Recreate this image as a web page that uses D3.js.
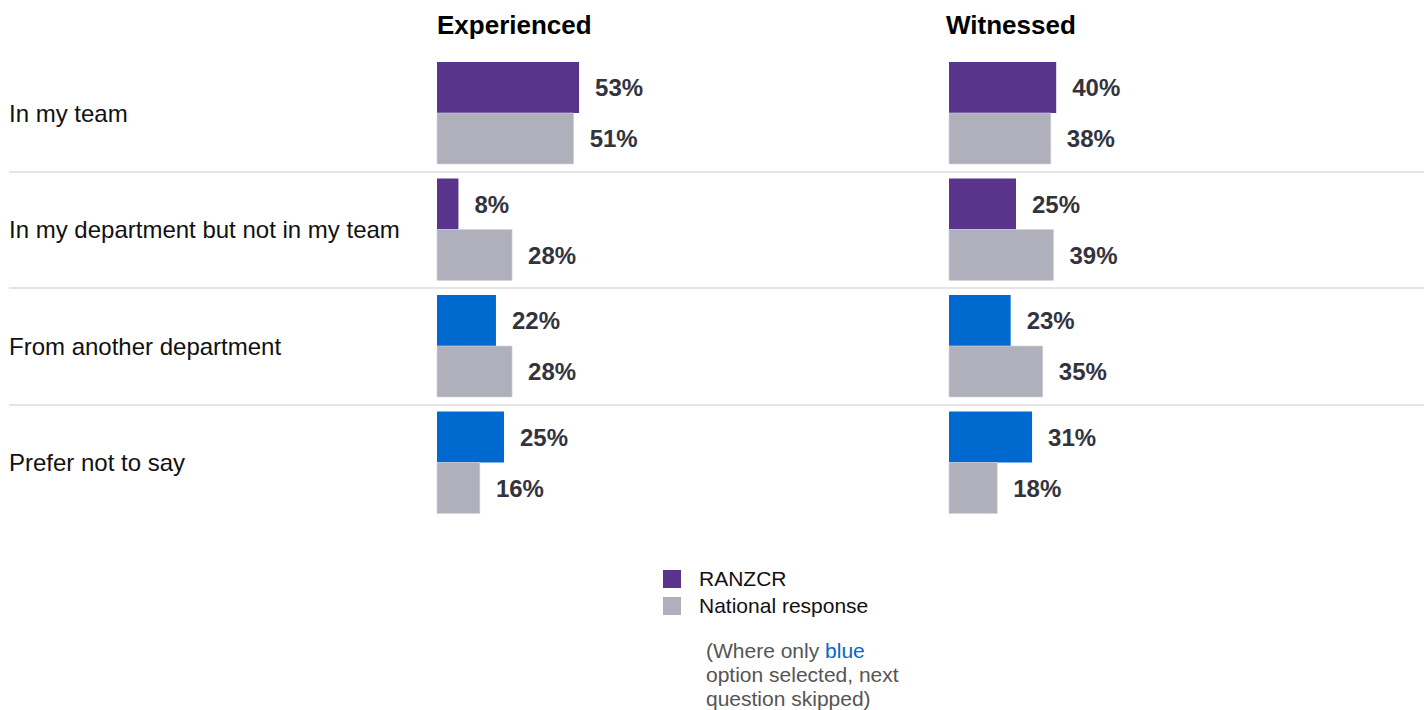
<!DOCTYPE html>
<html><head><meta charset="utf-8">
<script src="https://cdn.jsdelivr.net/npm/d3@7"></script>
<style>body{margin:0;background:#fff;}svg{display:block;font-family:"Liberation Sans",Arial,sans-serif;}</style>
</head><body><svg id="c" width="1424" height="710"></svg>
<script>
const categories = ["In my team","In my department but not in my team","From another department","Prefer not to say"];
const panels = ["Experienced","Witnessed"];
const ranzcrExperienced = [53, 8, 22, 25];
const nationalExperienced = [51, 28, 28, 16];
const ranzcrWitnessed = [40, 25, 23, 31];
const nationalWitnessed = [38, 39, 35, 18];
// blue = "only this option selected, next question skipped"
const blueFlag = [false, false, true, true];
const legendItems = ["RANZCR","National response"];

const colors = {ranzcr:"#5a338b", national:"#b0b0bc", blue:"#0069cf"};
const svg = d3.select("#c");

const y = d3.scaleBand().domain(categories).range([55, 521]).paddingInner(0).paddingOuter(0);
const panelX = d3.scaleOrdinal().domain(panels).range([437, 949]);
const headerX = d3.scaleOrdinal().domain(panels).range([437, 946]);
const x = d3.scaleLinear().domain([0,100]).range([0,268]);

const panelData = [
  {name:"Experienced", r:ranzcrExperienced, n:nationalExperienced},
  {name:"Witnessed", r:ranzcrWitnessed, n:nationalWitnessed}
];

// separators
svg.selectAll("line.sep").data(categories.slice(1)).join("line")
  .attr("x1",9).attr("x2",1424)
  .attr("y1",d=>Math.round(y(d))).attr("y2",d=>Math.round(y(d)))
  .attr("stroke","#dcdcdc").attr("stroke-width",1.5);

// category labels
svg.selectAll("text.cat").data(categories).join("text")
  .attr("x",9).attr("y",d=>y(d)+y.bandwidth()/2).attr("dy","0.35em")
  .attr("font-size",24).attr("fill","#111").text(d=>d);

const barH = 51;
panelData.forEach(p=>{
  const x0 = panelX(p.name);
  svg.append("text").attr("x",headerX(p.name)).attr("y",34).attr("font-size",26).attr("font-weight","bold")
    .attr("fill","#000").text(p.name);
  const g = svg.append("g");
  categories.forEach((c,i)=>{
    const top = y(c) + 7;
    g.append("rect").attr("x",x0).attr("y",top).attr("width",x(p.r[i])).attr("height",barH)
      .attr("fill", blueFlag[i] ? colors.blue : colors.ranzcr);
    g.append("rect").attr("x",x0).attr("y",top+barH).attr("width",x(p.n[i])).attr("height",barH)
      .attr("fill", colors.national).attr("stroke","#d4d4dc").attr("stroke-width",0.6);
    g.append("text").attr("x",x0+x(p.r[i])+16).attr("y",top+barH/2).attr("dy","0.36em")
      .attr("font-size",24).attr("font-weight","bold").attr("fill","#33333d").text(p.r[i]+"%");
    g.append("text").attr("x",x0+x(p.n[i])+16).attr("y",top+barH*1.5).attr("dy","0.36em")
      .attr("font-size",24).attr("font-weight","bold").attr("fill","#33333d").text(p.n[i]+"%");
  });
});

// legend
const lg = svg.append("g").attr("transform","translate(663,570)");
legendItems.forEach((d,i)=>{
  lg.append("rect").attr("x",0).attr("y",i*27).attr("width",18).attr("height",18)
    .attr("fill", i===0?colors.ranzcr:colors.national);
  lg.append("text").attr("x",36).attr("y",i*27+9).attr("dy","0.35em").attr("font-size",21)
    .attr("fill","#111").text(d);
});
const note = svg.append("text").attr("font-size",21).attr("fill","#555");
const l1 = note.append("tspan").attr("x",706).attr("y",658);
l1.append("tspan").text("(Where only ");
l1.append("tspan").attr("fill",colors.blue).text("blue");
note.append("tspan").attr("x",706).attr("y",682).text("option selected, next");
note.append("tspan").attr("x",706).attr("y",706).text("question skipped)");
</script></body></html>
